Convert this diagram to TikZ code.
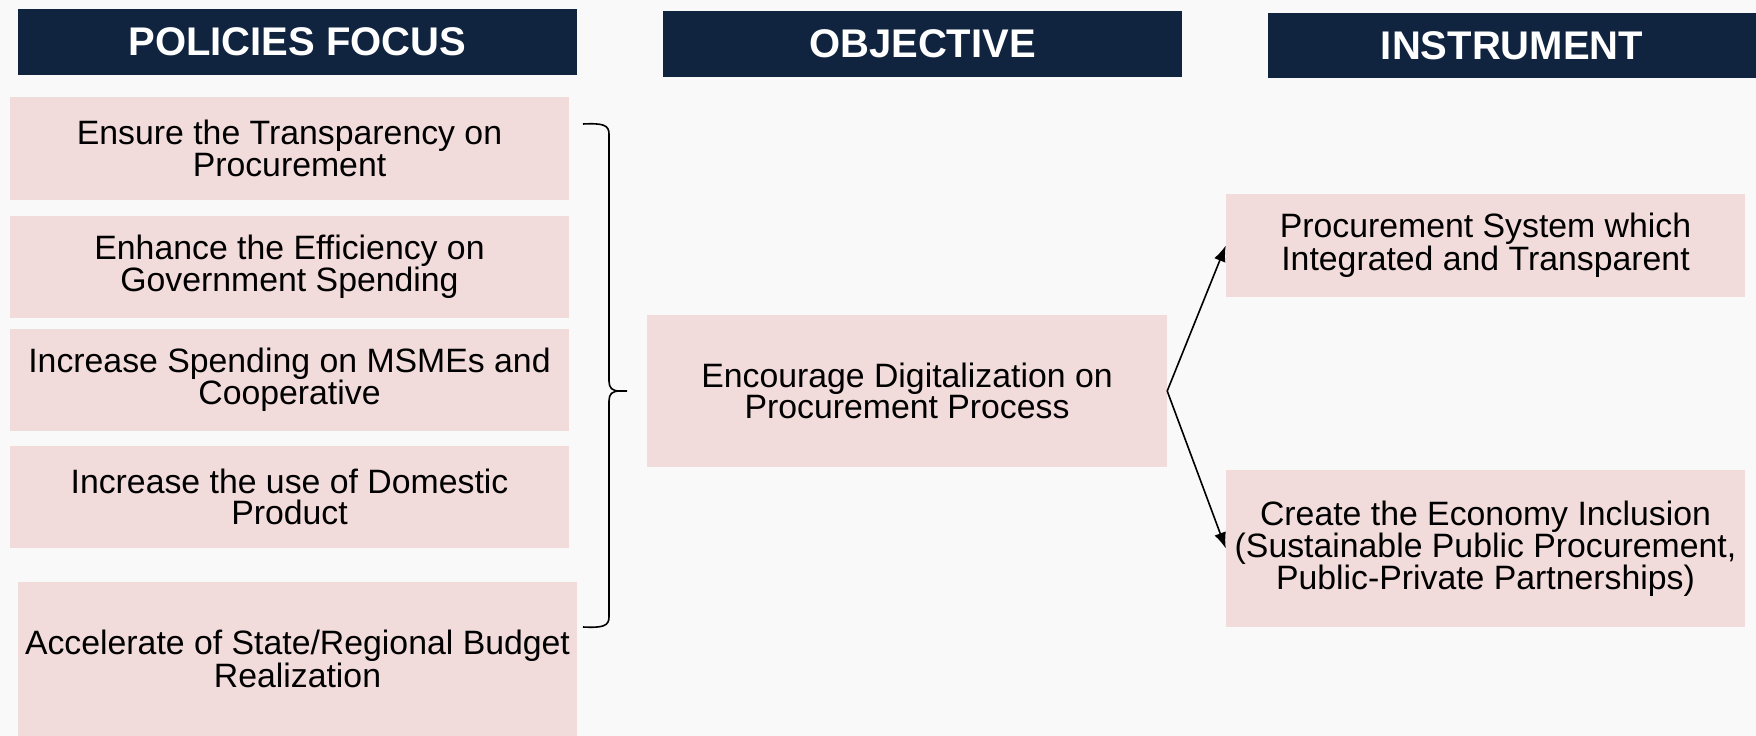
\documentclass[tikz,border=0pt]{standalone}
\usepackage{fontspec}
\setmainfont{Liberation Sans}
\usetikzlibrary{arrows.meta}
\definecolor{navy}{RGB}{16,36,64}
\definecolor{pinkbox}{RGB}{242,219,219}
\definecolor{bgcol}{RGB}{249,249,249}
\begin{document}
\begin{tikzpicture}[x=1pt,y=-1pt,
  head/.style={fill=navy,text=white,font=\fontsize{40}{44}\selectfont\bfseries,inner sep=0pt,align=center},
  pbox/.style={fill=pinkbox,text=black,font=\fontsize{33.8}{31.5}\selectfont,inner sep=0pt,align=center},
  conn/.style={line width=1.6pt,draw=black},
  arr/.style={conn,-{Latex[length=16pt,width=12pt]}},
]
\fill[bgcol] (0,0) rectangle (1756,736);
\useasboundingbox (0,0) rectangle (1756,736);

\node[head,minimum width=559pt,minimum height=66pt] (h1) at (297.5,42) {POLICIES FOCUS};
\node[head,minimum width=519pt,minimum height=66pt] (h2) at (922.5,44) {OBJECTIVE};
\node[head,minimum width=488pt,minimum height=65pt] (h3) at (1512,45.5) {INSTRUMENT};

\node[pbox,minimum width=559pt,minimum height=103pt] (b1) at (289.5,148.5) {Ensure the Transparency on\\Procurement};
\node[pbox,minimum width=559pt,minimum height=102pt] (b2) at (289.5,267) {Enhance the Efficiency on\\Government Spending};
\node[pbox,minimum width=559pt,minimum height=102pt] (b3) at (289.5,380) {Increase Spending on MSMEs and\\Cooperative};
\node[pbox,minimum width=559pt,minimum height=102pt] (b4) at (289.5,497) {Increase the use of Domestic\\Product};
\node[pbox,minimum width=559pt,minimum height=154pt] (b5) at (297.5,659) {Accelerate of State/Regional Budget\\Realization};

\node[pbox,minimum width=520pt,minimum height=152pt] (c) at (907,391) {Encourage Digitalization on\\Procurement Process};

\node[pbox,minimum width=519pt,minimum height=103pt] (r1) at (1485.5,245.5) {Procurement System which\\Integrated and Transparent};
\node[pbox,minimum width=519pt,minimum height=157pt] (r2) at (1485.5,548.5) {Create the Economy Inclusion\\(Sustainable Public Procurement,\\Public-Private Partnerships)};

\coordinate (bt) at (583,124);
\coordinate (bb) at (583,627);
\coordinate (btip) at (627,391);
\draw[conn] (bt) .. controls (603,123) and (609,125) .. (609,134) -- (609,381)
  .. controls (609,388) and (612,391) .. (620,391) -- (btip);
\draw[conn] (bb) .. controls (603,628) and (609,626) .. (609,617) -- (609,401)
  .. controls (609,394) and (612,391) .. (620,391);

\draw[arr] (c.east) -- (r1.west);
\draw[arr] (c.east) -- (r2.west);
\end{tikzpicture}
\end{document}
